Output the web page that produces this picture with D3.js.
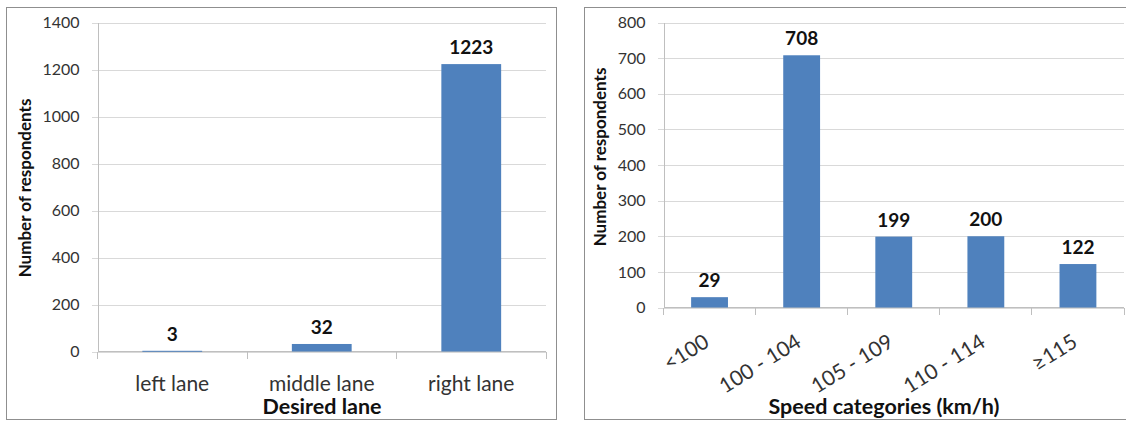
<!DOCTYPE html>
<html>
<head>
<meta charset="utf-8">
<script src="https://cdn.jsdelivr.net/npm/d3@7"></script>
<style>
  html, body { margin: 0; padding: 0; background: #ffffff; }
  svg { display: block; font-family: Lato, "Open Sans", sans-serif; }
</style>
</head>
<body>
<svg id="chart" width="1126" height="421"></svg>
<script>
// ---- data ----
const laneCategories = ["left lane", "middle lane", "right lane"];
const laneValues = [3, 32, 1223];
const laneTicks = [0, 200, 400, 600, 800, 1000, 1200, 1400];
const laneXTitle = "Desired lane";

const speedCategories = ["<100", "100 - 104", "105 - 109", "110 - 114", "≥115"];
const speedValues = [29, 708, 199, 200, 122];
const speedTicks = [0, 100, 200, 300, 400, 500, 600, 700, 800];
const speedXTitle = "Speed categories (km/h)";

const yTitle = "Number of respondents";

// ---- styles ----
const barColor = "#4f81bd";
const gridColor = "#d9d9d9";
const axisColor = "#bfbfbf";
const tickTextColor = "#333333";

const svg = d3.select("#chart");

function panel(cfg) {
  const g = svg.append("g");
  // panel frame
  g.append("rect")
    .attr("x", cfg.frame[0] + 0.5).attr("y", cfg.frame[1] + 0.5)
    .attr("width", cfg.frame[2]).attr("height", cfg.frame[3])
    .attr("fill", "#fff").attr("stroke", "#8f8f8f").attr("stroke-width", 1);

  const x = d3.scaleBand().domain(cfg.categories).range([cfg.left, cfg.right]).padding(0);
  const y = d3.scaleLinear().domain([0, d3.max(cfg.ticks)]).range([cfg.bottom, cfg.top]);

  // gridlines
  const grid = g.append("g")
    .attr("transform", `translate(${cfg.left - 6},0)`)
    .call(d3.axisLeft(y).tickValues(cfg.ticks).tickSize(-(cfg.right - cfg.left + 6)).tickFormat(""));
  grid.select(".domain").remove();
  grid.selectAll(".tick line").attr("stroke", gridColor).attr("shape-rendering", "crispEdges");

  // y axis with labels
  const ya = g.append("g")
    .attr("transform", `translate(${cfg.left},0)`)
    .call(d3.axisLeft(y).tickValues(cfg.ticks).tickSize(0).tickPadding(18).tickFormat(d3.format("d")));
  ya.select(".domain").attr("stroke", axisColor).attr("shape-rendering", "crispEdges");
  ya.selectAll(".tick text")
    .attr("fill", tickTextColor).style("font-size", "16px").style("font-family", "Lato, sans-serif");

  // x axis baseline & category boundary ticks
  const xa = g.append("g")
    .attr("transform", `translate(0,${cfg.bottom})`)
    .call(d3.axisBottom(x).tickSize(0).tickFormat(""));
  xa.select(".domain").attr("stroke", axisColor).attr("shape-rendering", "crispEdges")
    .attr("d", `M${cfg.left},0H${cfg.right}`);
  const bounds = cfg.categories.map(c => x(c)).concat([x(cfg.categories[cfg.categories.length - 1]) + x.bandwidth()]);
  xa.selectAll("line.sep").data(bounds).join("line")
    .attr("class", "sep")
    .attr("x1", d => d).attr("x2", d => d).attr("y1", 0).attr("y2", 7)
    .attr("stroke", axisColor).attr("shape-rendering", "crispEdges");

  // bars
  const bw = x.bandwidth() * 0.4;
  g.selectAll("rect.bar").data(cfg.values).join("rect")
    .attr("class", "bar")
    .attr("x", (d, i) => x(cfg.categories[i]) + (x.bandwidth() - bw) / 2)
    .attr("width", bw)
    .attr("y", d => y(d))
    .attr("height", d => Math.max(1, y(0) - y(d)))
    .attr("fill", barColor);

  // data labels
  g.selectAll("text.val").data(cfg.values).join("text")
    .attr("class", "val")
    .attr("x", (d, i) => x(cfg.categories[i]) + x.bandwidth() / 2)
    .attr("y", d => y(d) - 10)
    .attr("text-anchor", "middle")
    .style("font-size", "19px").style("font-weight", "bold")
    .attr("fill", "#111")
    .text(d => d);

  // category labels
  if (cfg.rotate) {
    g.selectAll("text.cat").data(cfg.categories).join("text")
      .attr("class", "cat")
      .attr("transform", d => `translate(${x(d) + x.bandwidth() / 2 + 1},${cfg.bottom + 38}) rotate(-32)`)
      .attr("text-anchor", "end")
      .style("font-size", "21px")
      .attr("fill", tickTextColor)
      .text(d => d);
  } else {
    g.selectAll("text.cat").data(cfg.categories).join("text")
      .attr("class", "cat")
      .attr("x", d => x(d) + x.bandwidth() / 2)
      .attr("y", cfg.bottom + 39)
      .attr("text-anchor", "middle")
      .style("font-size", "21px")
      .attr("fill", tickTextColor)
      .text(d => d);
  }

  // x title
  g.append("text")
    .attr("x", cfg.xTitleX).attr("y", 414)
    .attr("text-anchor", "middle")
    .style("font-size", "21.5px").style("font-weight", "bold")
    .attr("fill", "#111")
    .text(cfg.xTitle);

  // y title
  g.append("text")
    .attr("transform", `translate(${cfg.yTitleX},${cfg.yTitleY}) rotate(-90)`)
    .attr("text-anchor", "middle")
    .style("font-size", "17px").style("font-weight", "bold")
    .attr("fill", "#111")
    .text(yTitle);
}

panel({
  frame: [6, 7, 550, 412],
  categories: laneCategories, values: laneValues, ticks: laneTicks,
  left: 97.5, right: 546, top: 22.5, bottom: 351.5,
  xTitle: laneXTitle, xTitleX: 322, yTitleX: 31, yTitleY: 188, rotate: false
});

panel({
  frame: [584, 7, 560, 412],
  categories: speedCategories, values: speedValues, ticks: speedTicks,
  left: 663.5, right: 1124, top: 22.5, bottom: 307.5,
  xTitle: speedXTitle, xTitleX: 884, yTitleX: 606, yTitleY: 157, rotate: true
});
</script>
</body>
</html>
